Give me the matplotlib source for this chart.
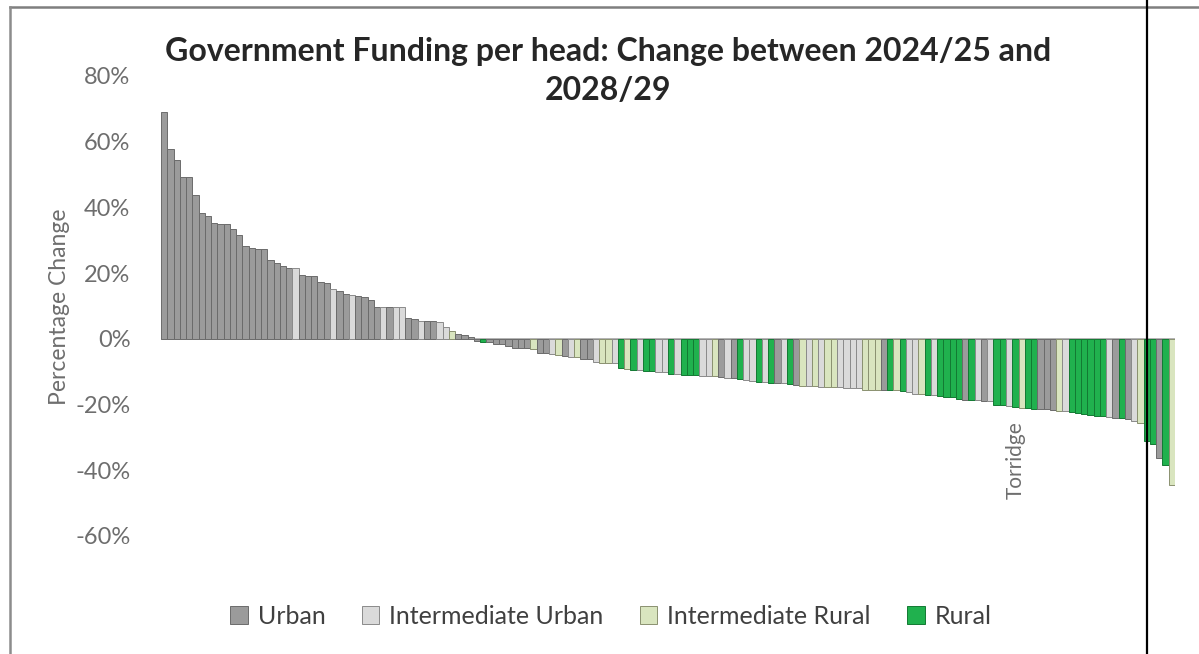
import matplotlib
matplotlib.use("Agg")
import matplotlib.pyplot as plt
from matplotlib.lines import Line2D
from matplotlib.patches import Patch

# ---- data ----
values = [
    69.0, 57.8, 54.4, 49.3, 49.3, 43.7, 38.2, 37.5, 35.2, 34.9,
    34.9, 33.3, 31.6, 28.4, 27.6, 27.3, 27.3, 24.0, 23.0, 22.3,
    21.5, 21.5, 19.5, 19.1, 19.1, 17.4, 17.1, 15.1, 14.7, 13.7,
    13.2, 12.9, 12.7, 11.9, 9.8, 9.7, 9.7, 9.7, 9.7, 6.3,
    6.0, 5.5, 5.3, 5.3, 5.1, 3.7, 2.5, 1.4, 1.2, 0.5,
    -0.8, -1.0, -1.1, -1.5, -1.5, -2.1, -2.8, -2.8, -2.8, -3.1,
    -4.4, -4.4, -4.6, -4.9, -5.2, -5.4, -5.6, -6.2, -6.2, -6.9,
    -7.2, -7.2, -7.3, -8.9, -9.2, -9.4, -9.5, -9.9, -9.9, -10.2,
    -10.2, -10.6, -10.6, -10.9, -10.9, -10.9, -11.2, -11.2, -11.4, -11.7,
    -11.8, -12.0, -12.3, -12.6, -12.8, -13.0, -13.2, -13.3, -13.5, -13.5,
    -13.8, -14.0, -14.3, -14.3, -14.3, -14.5, -14.5, -14.7, -14.7, -15.0,
    -15.0, -15.0, -15.5, -15.5, -15.5, -15.5, -15.5, -15.7, -16.0, -16.3,
    -16.7, -16.7, -17.0, -17.0, -17.3, -17.7, -17.7, -18.3, -18.5, -18.7,
    -18.7, -18.8, -19.0, -20.0, -20.0, -20.3, -20.6, -21.0, -21.0, -21.2,
    -21.3, -21.3, -21.6, -22.0, -22.1, -22.4, -22.6, -22.9, -23.1, -23.4,
    -23.6, -23.9, -24.1, -24.1, -24.4, -25.1, -25.6, -31.2, -31.9, -36.3,
    -38.3, -44.4,
]
categories = [
    "U", "U", "U", "U", "U", "U", "U", "U", "U", "U",
    "U", "U", "U", "U", "U", "U", "U", "U", "U", "U",
    "U", "IU", "U", "U", "U", "U", "U", "IU", "U", "U",
    "IU", "U", "U", "U", "U", "IU", "U", "IU", "IU", "U",
    "U", "IU", "U", "U", "IU", "IU", "IR", "U", "U", "U",
    "U", "R", "U", "U", "U", "U", "U", "U", "U", "IR",
    "U", "U", "IU", "IR", "U", "IU", "IR", "U", "U", "IU",
    "IR", "IR", "IU", "R", "IR", "R", "IU", "R", "R", "IU",
    "IU", "R", "IU", "R", "R", "R", "IU", "IU", "IR", "U",
    "IU", "U", "R", "IU", "IU", "R", "IU", "R", "U", "IU",
    "R", "U", "IR", "IU", "IR", "IU", "IR", "IR", "IU", "IU",
    "IU", "IU", "IR", "IR", "IR", "U", "R", "IR", "R", "IU",
    "IU", "IR", "R", "IU", "R", "R", "R", "R", "U", "R",
    "IU", "U", "IU", "R", "R", "IU", "R", "IR", "R", "R",
    "U", "U", "U", "IR", "IU", "R", "R", "R", "R", "R",
    "R", "IU", "U", "R", "U", "IU", "IR", "R", "R", "U",
    "R", "IR",
]
category_names = {"U": "Urban", "IU": "Intermediate Urban",
                  "IR": "Intermediate Rural", "R": "Rural"}
legend_order = ["U", "IU", "IR", "R"]
yticks = [-60, -40, -20, 0, 20, 40, 60, 80]
ytick_labels = ["-60%", "-40%", "-20%", "0%", "20%", "40%", "60%", "80%"]
annot_label = "Torridge"
annot_index = 136

# ---- styling ----
fill = {"U": "#9b9b9b", "IU": "#dadada", "IR": "#d9e5bf", "R": "#20b14e"}
edge = {"U": "#6b6b6b", "IU": "#8a8a8a", "IR": "#8a9170", "R": "#137a33"}

plt.rcParams["font.family"] = ["Lato", "DejaVu Sans"]

W, H = 1199, 654
fig = plt.figure(figsize=(W / 100, H / 100), dpi=100)
fig.patch.set_facecolor("white")

left = 161 / W
right = 1175 / W
bottom = 1 - 536 / H
top = 1 - 76 / H
ax = fig.add_axes([left, bottom, right - left, top - bottom])

x = list(range(len(values)))
ax.bar(x, values, width=1.0,
       color=[fill[c] for c in categories],
       edgecolor=[edge[c] for c in categories], linewidth=0.7)

ax.set_xlim(-0.5, len(values) - 0.5)
ax.set_ylim(-60, 80)
ax.axhline(0, color="#a6a6a6", lw=1.2, zorder=0)

for s in ax.spines.values():
    s.set_visible(False)
ax.set_xticks([])
ax.set_yticks(yticks)
ax.set_yticklabels(ytick_labels, fontsize=17, color="#6e6e6e")
ax.tick_params(axis="y", length=0, pad=22)

fig.text(60 / W, 1 - 307 / H, "Percentage Change", rotation=90,
         ha="center", va="center", fontsize=16.5, color="#6e6e6e")

fig.text(608 / W, 1 - 71 / H,
         "Government Funding per head: Change between 2024/25 and\n2028/29",
         ha="center", va="center", fontsize=23, fontweight="bold",
         color="#262626", linespacing=1.4)

ax.text(annot_index, -25.0, annot_label, rotation=90, ha="center", va="top",
        fontsize=15, color="#6e6e6e")

handles = [Patch(facecolor=fill[k], edgecolor=edge[k], linewidth=0.7)
           for k in legend_order]
fig.legend(handles, [category_names[k] for k in legend_order],
           loc="center", bbox_to_anchor=(611 / W, 1 - 616 / H), ncol=4,
           frameon=False, fontsize=18, handlelength=0.7, handleheight=0.7,
           handletextpad=0.4, columnspacing=1.45, labelcolor="#404040")

# page frame and cut line visible in the reference screenshot
fig.add_artist(Line2D([10 / W, 1], [1 - 7 / H, 1 - 7 / H],
                      transform=fig.transFigure, color="#7f7f7f", lw=1.8))
fig.add_artist(Line2D([10 / W, 10 / W], [0, 1 - 7 / H],
                      transform=fig.transFigure, color="#8c8c8c", lw=1.8))
fig.add_artist(Line2D([1147 / W, 1147 / W], [0, 1],
                      transform=fig.transFigure, color="black", lw=1.6))

fig.savefig("out.png", dpi=100, facecolor="white")
